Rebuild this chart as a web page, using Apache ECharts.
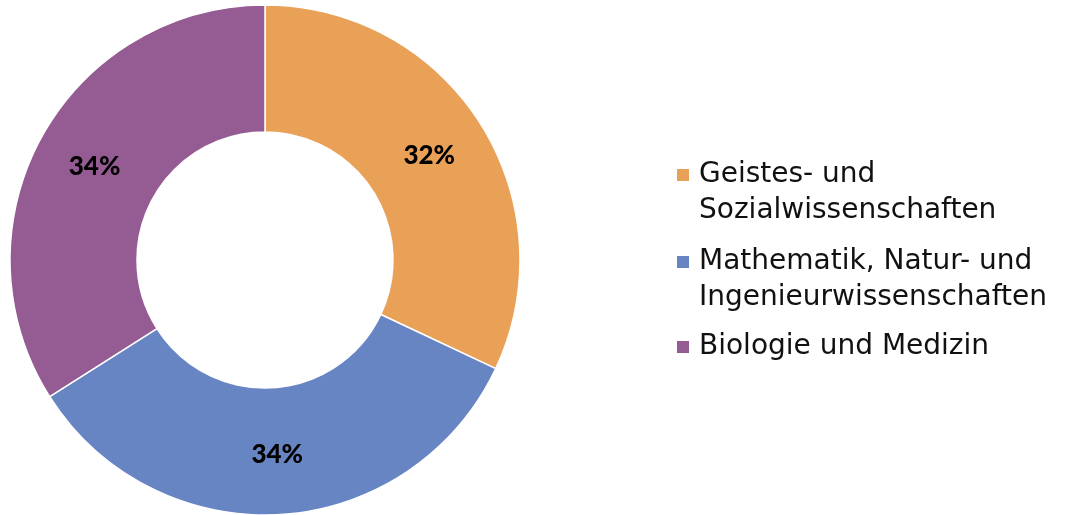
<!DOCTYPE html>
<html>
<head>
<meta charset="utf-8">
<script src="https://cdn.jsdelivr.net/npm/echarts@6/dist/echarts.min.js"></script>
<style>
  html, body { margin: 0; padding: 0; background: #fff; }
  #chart { width: 1073px; height: 515px; }
</style>
</head>
<body>
<div id="chart"></div>
<script>
// Fachbereiche und Anteile (in %)
const categories = [
  'Geistes- und\nSozialwissenschaften',
  'Mathematik, Natur- und\nIngenieurwissenschaften',
  'Biologie und Medizin'
];
const shares = [32, 34, 34];
const colors = ['#E9A158', '#6784C3', '#955C94'];

// eine Legende pro Eintrag, damit das Kästchen auf Höhe der ersten Zeile sitzt
const legendTops = [125, 212, 333];

const chart = echarts.init(document.getElementById('chart'));

const legends = categories.map((name, i) => {
  const twoLines = name.indexOf('\n') >= 0;
  return {
    orient: 'vertical',
    left: 677,
    top: legendTops[i],
    padding: 0,
    itemWidth: 12,
    itemHeight: 12,
    icon: 'rect',
    itemStyle: { borderWidth: 0 },
    selectedMode: false,
    data: [name],
    // leere Zeile oben: erste Textzeile liegt dann mittig neben dem Kästchen
    formatter: n => twoLines ? '{t|}\n{t|' + n.split('\n').join('}\n{t|') + '}' : '{t|' + n + '}',
    textStyle: {
      rich: {
        t: {
          fontFamily: "'DejaVu Sans', Verdana, sans-serif",
          fontSize: 28,
          color: '#111',
          lineHeight: 36,
          padding: [0, 0, 0, 5]
        }
      }
    }
  };
});

const option = {
  animation: false,
  color: colors,
  legend: legends,
  series: [
    {
      type: 'pie',
      center: [265, 260],
      radius: [128, 255],
      startAngle: 90,
      clockwise: true,
      avoidLabelOverlap: false,
      itemStyle: {
        borderColor: '#fff',
        borderWidth: 1.5
      },
      label: {
        show: true,
        position: 'inside',
        formatter: '{p|{d}%}',
        textBorderWidth: 0,
        rich: {
          p: {
            color: '#000',
            fontFamily: 'Lato',
            fontWeight: 900,
            fontSize: 26,
            textBorderWidth: 0
          }
        }
      },
      labelLine: { show: false },
      emphasis: { disabled: true },
      data: categories.map((name, i) => ({ name: name, value: shares[i] }))
    }
  ]
};

chart.setOption(option);
</script>
</body>
</html>
